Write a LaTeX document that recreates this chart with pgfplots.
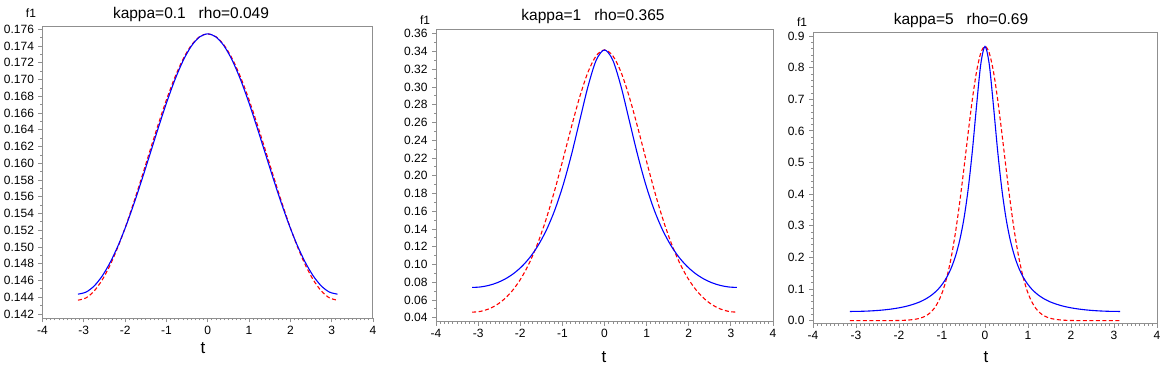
\documentclass[border=0pt]{standalone}
\usepackage{fontspec}
\setmainfont{Liberation Sans}
\usepackage{pgfplots}
\usepackage{pgfplotstable}
\pgfplotsset{compat=1.18}
\definecolor{framegray}{HTML}{8F8F8F}
\definecolor{vmred}{HTML}{FF0000}
\definecolor{wcblue}{HTML}{0000FF}

% t, von Mises (red dashed), wrapped Cauchy (blue)
\pgfplotstableread{
t vm wc
-3.14159 0.143650 0.144370
-2.94524 0.143927 0.144616
-2.74889 0.144748 0.145349
-2.55254 0.146092 0.146557
-2.35619 0.147920 0.148215
-2.15984 0.150179 0.150286
-1.96350 0.152798 0.152721
-1.76715 0.155691 0.155454
-1.57080 0.158758 0.158401
-1.37445 0.161886 0.161462
-1.17810 0.164951 0.164521
-0.98175 0.167828 0.167442
-0.78540 0.170390 0.170091
-0.58905 0.172523 0.172327
-0.39270 0.174124 0.174027
-0.19635 0.175118 0.175092
 0.00000 0.175455 0.175454
 0.19635 0.175118 0.175092
 0.39270 0.174124 0.174027
 0.58905 0.172523 0.172327
 0.78540 0.170390 0.170091
 0.98175 0.167828 0.167442
 1.17810 0.164951 0.164521
 1.37445 0.161886 0.161462
 1.57080 0.158758 0.158401
 1.76715 0.155691 0.155454
 1.96350 0.152798 0.152721
 2.15984 0.150179 0.150286
 2.35619 0.147920 0.148215
 2.55254 0.146092 0.146557
 2.74889 0.144748 0.145349
 2.94524 0.143927 0.144616
 3.14159 0.143650 0.144370
}\tabA

\pgfplotstableread{
t vm wc
-3.14159 0.046246 0.074124
-2.94524 0.047143 0.074687
-2.74889 0.049903 0.076401
-2.55254 0.054734 0.079361
-2.35619 0.061983 0.083726
-2.15984 0.072125 0.089740
-1.96350 0.085736 0.097752
-1.76715 0.103428 0.108235
-1.57080 0.125708 0.121824
-1.37445 0.152788 0.139313
-1.17810 0.184315 0.161625
-0.98175 0.219101 0.189612
-0.78540 0.254951 0.223540
-0.58905 0.288713 0.262017
-0.39270 0.316665 0.300444
-0.19635 0.335207 0.330270
 0.00000 0.341710 0.341725
 0.19635 0.335207 0.330270
 0.39270 0.316665 0.300444
 0.58905 0.288713 0.262017
 0.78540 0.254951 0.223540
 0.98175 0.219101 0.189612
 1.17810 0.184315 0.161625
 1.37445 0.152788 0.139313
 1.57080 0.125708 0.121824
 1.76715 0.103428 0.108235
 1.96350 0.085736 0.097752
 2.15984 0.072125 0.089740
 2.35619 0.061983 0.083726
 2.55254 0.054734 0.079361
 2.74889 0.049903 0.076401
 2.94524 0.047143 0.074687
 3.14159 0.046246 0.074124
}\tabB

\pgfplotstableread{
t vm wc
-3.14159 0.000039 0.029216
-2.94524 0.000043 0.029490
-2.74889 0.000058 0.030332
-2.55254 0.000091 0.031806
-2.35619 0.000170 0.034032
-2.15984 0.000363 0.037205
-1.96350 0.000862 0.041634
-1.76715 0.002203 0.047809
-1.57080 0.005843 0.056527
-1.47262 0.009538 0.062230
-1.37445 0.015497 0.069137
-1.27627 0.024943 0.077580
-1.17810 0.039592 0.088013
-1.07992 0.061694 0.101062
-0.98175 0.093977 0.117606
-0.88357 0.139375 0.138900
-0.78540 0.200483 0.166750
-0.68722 0.278732 0.203785
-0.58905 0.373363 0.253782
-0.49087 0.480491 0.321946
-0.39270 0.592649 0.414555
-0.29452 0.699175 0.536045
-0.19635 0.787707 0.679731
-0.09817 0.846514 0.811001
 0.00000 0.867141 0.866987
 0.09817 0.846514 0.811001
 0.19635 0.787707 0.679731
 0.29452 0.699175 0.536045
 0.39270 0.592649 0.414555
 0.49087 0.480491 0.321946
 0.58905 0.373363 0.253782
 0.68722 0.278732 0.203785
 0.78540 0.200483 0.166750
 0.88357 0.139375 0.138900
 0.98175 0.093977 0.117606
 1.07992 0.061694 0.101062
 1.17810 0.039592 0.088013
 1.27627 0.024943 0.077580
 1.37445 0.015497 0.069137
 1.47262 0.009538 0.062230
 1.57080 0.005843 0.056527
 1.76715 0.002203 0.047809
 1.96350 0.000862 0.041634
 2.15984 0.000363 0.037205
 2.35619 0.000170 0.034032
 2.55254 0.000091 0.031806
 2.74889 0.000058 0.030332
 2.94524 0.000043 0.029490
 3.14159 0.000039 0.029216
}\tabC

\pgfplotsset{
  panel/.style={
    scale only axis,
    axis line style={framegray, line width=1pt},
    xmin=-4, xmax=4, xtick={-4,-3,...,4}, minor x tick num=9,
    tick align=outside, tick pos=left,
    major tick length=4pt, minor tick length=2pt,
    every tick/.style={framegray, line width=0.8pt},
    tick label style={font=\fontsize{12}{12}\selectfont, text=black},
    /pgf/number format/assume math mode=true,
    yticklabel style={/pgf/number format/fixed, /pgf/number format/fixed zerofill,
      /pgf/number format/precision=#1, xshift=-1pt},
    xticklabel style={/pgf/number format/fixed, /pgf/number format/precision=0},
  },
  vm/.style={vmred, line width=1.1pt, dash pattern=on 4pt off 2.5pt, smooth},
  wc/.style={wcblue, line width=1.1pt, smooth},
}

\tikzset{
  ttl/.style={font=\fontsize{15.5}{16}\selectfont, anchor=center},
  ylab/.style={font=\fontsize{12}{12}\selectfont, anchor=center},
  xlab/.style={font=\fontsize{17}{17}\selectfont, anchor=center},
}

\begin{document}
\begin{tikzpicture}[x=1pt, y=1pt]
\path[use as bounding box] (0,0) rectangle (1167,366);

% panel 1
\begin{axis}[panel=3, at={(42.5pt,47.5pt)}, anchor=south west,
  width=330.5pt, height=291.5pt,
  ymin=0.141463, ymax=0.176275,
  ytick={0.142,0.144,...,0.1765}, minor y tick num=1]
\addplot[vm] table[x=t, y=vm] {\tabA};
\addplot[wc] table[x=t, y=wc] {\tabA};
\end{axis}
\node[ttl] at (191,351) {kappa=0.1\ \ \ rho=0.049};
\node[ylab] at (31,353) {f1};
\node[xlab] at (203,18) {t};

% panel 2
\begin{axis}[panel=2, at={(436pt,44pt)}, anchor=south west,
  width=337pt, height=292pt,
  ymin=0.0352, ymax=0.3642,
  ytick={0.04,0.06,...,0.365}, minor y tick num=1]
\addplot[vm] table[x=t, y=vm] {\tabB};
\addplot[wc] table[x=t, y=wc] {\tabB};
\end{axis}
\node[ttl] at (593,350) {kappa=1\ \ \ rho=0.365};
\node[ylab] at (425,346) {f1};
\node[xlab] at (604,9) {t};

% panel 3
\begin{axis}[panel=1, at={(813pt,42pt)}, anchor=south west,
  width=344pt, height=291pt,
  ymin=-0.0104, ymax=0.9095,
  ytick={0,0.1,...,0.95}, minor y tick num=4]
\addplot[vm] table[x=t, y=vm] {\tabC};
\addplot[wc] table[x=t, y=wc] {\tabC};
\end{axis}
\node[ttl] at (961,346) {kappa=5\ \ \ rho=0.69};
\node[ylab] at (802,344) {f1};
\node[xlab] at (986,9) {t};
\end{tikzpicture}
\end{document}
